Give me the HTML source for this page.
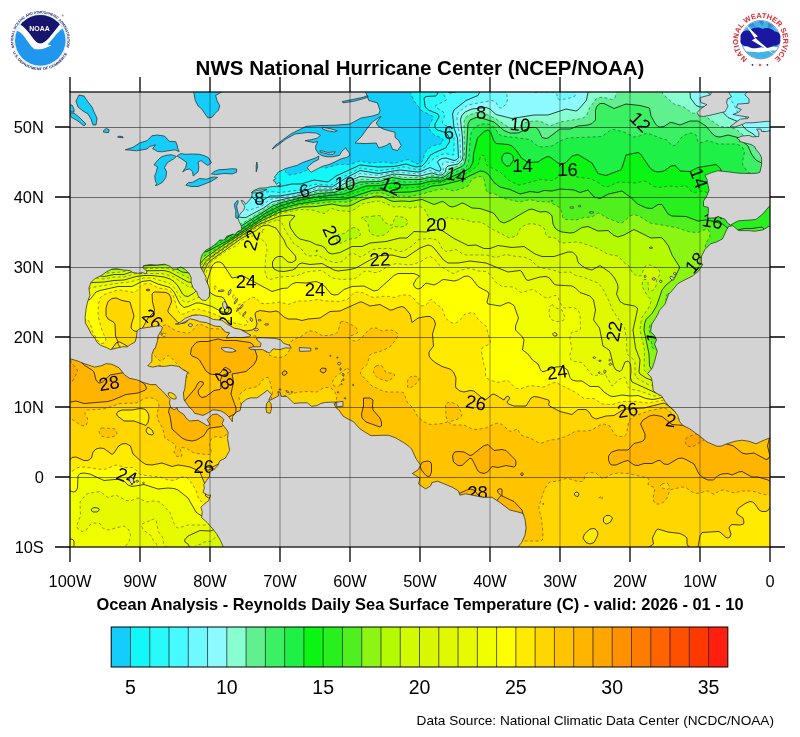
<!DOCTYPE html>
<html><head><meta charset="utf-8"><title>NWS National Hurricane Center SST Analysis</title>
<style>html,body{margin:0;padding:0;background:#fff;}svg{display:block;}</style></head>
<body><svg width="800" height="737" viewBox="0 0 800 737" font-family="'Liberation Sans', Arial, sans-serif">
<rect width="800" height="737" fill="#fff"/>
<g id="noaa">
<defs>
<path id="noaaTop" d="M14.35,47.84 A27,27 0 1 1 66.25,47.84"/>
<path id="noaaBot" d="M12.87,52.04 A29.8,29.8 0 0 0 67.73,52.04"/>
<clipPath id="noaaClip"><circle cx="40.3" cy="40.4" r="25.3"/></clipPath>
</defs>
<circle cx="40.3" cy="40.4" r="26.2" fill="#fff" stroke="#d6ecfa" stroke-width="0.8"/>
<g clip-path="url(#noaaClip)">
<rect x="14" y="14" width="53" height="53" fill="#2196ee"/>
<path d="M12,10 H70 V24.2 H60.1 C57,28 53,33 49,38 C46,41.5 43,43.5 40.1,43.5 C37,43.5 34.5,40.5 32,37 C28,31.5 24.5,27 20.2,24.5 H12 Z" fill="#17166c"/>
<path d="M12,24.5 H20.2 C24.5,27 28,31.5 32,37 C34.5,40.5 37,43.5 40.1,43.5 C43,43.5 46,41.5 49,38 C53,33 57,28 60.1,24.2 H68 V26 C66,26.6 64.5,27.4 63.5,28 C61,29.6 59.5,31 58,32.5 C55,35.5 54,37.5 52,39.5 C50.5,41.5 49,43 47.5,44.5 L51.5,45.3 C49,46.6 47,47.4 46,47.8 C44,48.6 42,49.2 40,49.3 C38,49.4 36,49.4 34.5,49.2 C33,48 32,47 31,46 C29.5,44 28.2,42 27,40.5 C25,37.5 23.5,35.5 22,34 C20,32 18.5,31.3 17,31 C15.5,30.7 13.5,30.5 12,30.5 Z" fill="#fff"/>
</g>
<text x="39.5" y="31.2" text-anchor="middle" font-size="7.6" font-weight="bold" fill="#fff" textLength="20.4" lengthAdjust="spacingAndGlyphs">NOAA</text>
<text font-size="3.6" fill="#1a1a5e" font-weight="bold"><textPath href="#noaaTop" textLength="99" lengthAdjust="spacingAndGlyphs">NATIONAL OCEANIC AND ATMOSPHERIC ADMINISTRATION</textPath></text>
<text font-size="3.6" fill="#1a1a5e" font-weight="bold"><textPath href="#noaaBot" textLength="68" lengthAdjust="spacingAndGlyphs">U.S. DEPARTMENT OF COMMERCE</textPath></text>
<circle cx="62.7" cy="15.5" r="1" fill="#9a9a9a"/>
</g>

<g id="nws">
<defs>
<path id="nwsTop" d="M747.42,58.88 A22.6,22.6 0 1 1 773.98,58.88"/>
<clipPath id="nwsClip"><circle cx="760.7" cy="39.7" r="18.7"/></clipPath>
</defs>
<circle cx="760.7" cy="39.7" r="19.2" fill="#fff" stroke="#1a1aa0" stroke-width="0.5"/>
<g clip-path="url(#nwsClip)">
<rect x="740" y="19" width="42" height="42" fill="#3fb4e6"/>
<path d="M746,26 L752,21.5 L755.5,27 Z M758,20 L764,20 L762.5,26.5 Z M767.5,21 L775,25.5 L768,28.5 Z" fill="#2a8fd0"/>
<path d="M740,50 C748,48 756,51 762,50 C768,49 774,49 782,51 L782,62 L740,62 Z" fill="#3fb4e6"/>
<path d="M740,47 C748,45.5 756,48.5 762,47.5 C768,46.5 774,46.5 782,48 L782,51 C774,50 768,51 762,52 C755,53 748,51 740,51 Z" fill="#fff"/>
</g>
<path d="M740.5,37 C740.5,32 745,29.5 749.5,31 C752,27 759,26.5 762.5,29 C766,27 772.5,28 774.5,31.5 C779,31.5 781.5,35 780,39 C781.5,43 778,46.5 773.5,45.5 C770.5,48.5 764.5,48.5 761,46.8 C757,49 750.5,48.8 747.5,46 C743.5,46.8 739.5,43.5 740.5,40 Z" fill="#1a18a0"/>
<path d="M745.2,24 L758,36.5 L754.8,37.6 L768.5,49.2 L775,55 L765.2,48.6 L751.6,40.2 L755,38.8 Z" fill="#fff"/>
<text font-size="7.3" fill="#e3262d" font-weight="900"><textPath href="#nwsTop" textLength="112.6" lengthAdjust="spacingAndGlyphs">NATIONAL WEATHER SERVICE</textPath></text>
<circle cx="752.5" cy="64.8" r="0.9" fill="#1a1aa0"/>
<circle cx="767.4" cy="64.8" r="0.9" fill="#1a1aa0"/>
<path d="M760,63.2 l0.45,1.2 1.3,0 -1,0.8 0.4,1.3 -1.15,-0.75 -1.15,0.75 0.4,-1.3 -1,-0.8 1.3,0 z" fill="#e3262d"/>
</g>

<text x="420" y="75" text-anchor="middle" font-size="20.5" font-weight="bold" fill="#000">NWS National Hurricane Center (NCEP/NOAA)</text>
<defs><clipPath id="mc"><rect x="70" y="92" width="700" height="455"/></clipPath></defs>
<g clip-path="url(#mc)">
<rect x="56" y="80" width="730" height="480" fill="#14cdfa"/><g transform="scale(0.5)" stroke="#000" stroke-width="1.7" stroke-opacity="0.85" fill-rule="evenodd"><path fill="#12f8f8" stroke-dasharray="6 5" stroke-opacity="0.6" stroke-width="1.3" d="M112 160l213 0 5 8 10 9 60 35 116 82 8 5 24 5 12 8 4 4 0 12 8 17 4 4 4 1 20-4 36-14 16 4 24-7 24 0 20-7 20 4 28-2 20 3 28-8 16 8 4 1 7-4 3-4 3-12 5-8 10-8 17-4 4-4 1-4 -2-4 -16-6 -8-9 -2-9 8-16 -1-4 -21-10 -16-20 -11-26 1-16 750 0 0 956 -1456 0z"/><path fill="#28fafa" d="M112 160l128 0 20 30 8 6 16-12 8-24 25 0 15 26 12 14 4 8 -8 6 -11 18 -10 8 5 8 27 20 9 3 4-2 1-9 3-7 13-9 6-8 -1-4 -6-7 -8-4 -15-5 -4-4 4-4 11-5 12 5 48 36 5 8 -5 20 4 4 12 8 5 8 -1 4 -4 5 -4 2 -8 0 -26-27 -10-5 -8 1 -8 4 -4 4 7 8 38 28 19 10 20 18 8 4 4-1 9-11 9-16 7-8 7-5 12 3 10 6 8 8 1 4 -1 12 4 24 2 4 20 5 24-5 18 0 26-8 28 4 16-12 48-22 36 4 32-1 24-5 20 6 12-2 8-8 8-13 8-5 23-10 8-12 0-8 -5-8 -6-4 -13-4 -5-4 0-8 7-12 1-4 -2-4 -19-8 -5-4 -2-4 -2-16 4-3 20-1 3-4 1-8 -1-8 2-12 691 0 0 956 -1456 0zM296 192l0 1 1-1z"/><path fill="#46faff" stroke-dasharray="6 5" stroke-opacity="0.6" stroke-width="1.3" d="M112 160l124 0 4 9 32 46 24 21 104 76 40 25 24 20 8 2 20-7 12 0 11 12 6 16 3 4 4 1 12-2 20 2 40-5 24-10 12-2 24 3 7-3 21-15 32-17 36 6 52-8 24 5 8 0 8-4 21-19 11-6 12-3 12 3 4-1 0-35 -12-21 -11-5 0-4 4-12 -2-8 -13-8 -4-4 23-12 -6-12 0-28 681 0 0 956 -1456 0z"/><path fill="#6efaff" d="M112 160l122 0 6 13 28 41 20 23 74 55 14 15 58 33 30 24 8 3 16-3 4 1 5 7 4 16 5 8 6 6 8 2 20-12 20 0 43-8 33-12 28 2 28-18 28-15 36 6 44-7 36 4 8-2 16-7 16 7 4 0 2-2 -1-4 -6-12 3-4 6-3 8-1 16 5 4-1 5-4 -2-40 -7-20 -2-20 -1-8 3-8 24-19 24-10 15-31 16 0 1 3 4-1 0-2 109 0 2 4 5 2 4-1 3-5 385 0 0 8 2 4 10 5 4-1 10-16 42 0 0 956 -1456 0zM893 160l3 0 38 0 -3 8 -6 8 -14 8 -11 2 -4-2z"/><path fill="#8cfaff" stroke-dasharray="6 5" stroke-opacity="0.6" stroke-width="1.3" d="M112 160l120 0 4 9 20 31 36 54 9 10 7 20 25 40 31 28 56 40 8 2 6-2 10-8 4-9 4-1 3 2 2 8 -13 20 0 9 12 1 24-4 16 11 28-9 12-10 8-4 60-11 32-11 28 1 28-16 28-14 36 4 36-7 48 4 20-7 16 6 8-1 3-6 -2-12 3-4 24 1 8-5 1-4 -1-40 -6-36 0-8 3-8 19-14 48-9 8 3 4 9 4 3 4 0 8-8 3-8 -3-24 1-16 50 0 3 20 3 4 3 1 12-1 24 1 6 3 0 8 6 4 24-5 6-3 1-4 -3-8 -14-20 305 0 1 12 4 8 8 13 13 11 10 20 13 10 12 4 4-1 8-10 8-3 12 1 24-19 12-5 0 54 -12 2 -12 10 -8 1 -12-7 0 3 4 16 8 4 15 0 17-4 0 836 -1456 0zM1520 256lzM1461 160l3 0 14 0 -3 4 -7 2 -5-2z"/><path fill="#88ffd0" d="M112 160l119 0 5 12 42 64 26 50 21 34 28 28 39 33 16 19 12 8 3 4 4 12 3 4 10 4 16-2 28 5 8 0 35-19 17-12 64-15 28-9 28 0 10-4 22-13 24-10 36 3 32-8 52 4 24-6 12 4 8 0 7-6 1-8 4-4 20-4 8-8 2-8 -1-36 -4-36 2-8 7-8 14-6 28-3 8 3 12 11 32 8 44-7 28 0 36-12 20 4 4-2 14-16 3-4 3-15 9-5 2-8 -2-12 157 0 2 8 4 4 4 0 12-4 12 7 4 9 1 12 11 15 8 3 20-1 24 10 12 12 24 10 13 15 15 9 16 18 20 5 24-2 0 826 -1456 0zM1417 160l13 0 1 12 8 20 -3 4 -12-3 -9-9 -1-4z"/><path fill="#60f090" stroke-dasharray="6 5" stroke-opacity="0.6" stroke-width="1.3" d="M112 160l117 0 7 14 37 58 15 30 32 55 28 30 41 37 16 20 2 12 -9 12 -1 4 3 4 8 4 20 2 12 9 8 2 28-4 12-4 52-34 20-8 52-12 24-8 32-1 32-16 20-8 36 2 32-9 20 4 28 0 12 0 16-5 12 3 8 0 8-5 8-10 20-8 6-6 3-12 -1-68 2-8 6-5 16-6 16 1 24 12 28 18 8 1 8-2 12-9 16-4 16 0 20 10 20-8 44-7 9-5 6-16 13-18 12-4 20 5 6-3 6-24 -1-12 30 0 3 4 8 3 7-3 2-4 39 0 1 28 23 20 20 6 16 12 20 2 36 25 20 2 12 3 20 17 12 6 16 13 28 4 20-2 0 820 -1456 0z"/><path fill="#3cf064" d="M112 160l116 0 8 16 33 52 31 60 20 32 28 30 40 38 12 16 1 8 -23 24 -4 8 2 4 24 3 16 6 24 5 12 0 24-6 68-43 20-8 72-18 32-2 52-21 40-1 24-8 24 4 32 0 24-5 16 2 8-2 16-12 20-9 5-5 3-12 4-68 4-8 12-5 8 0 28 9 20 17 12 5 16 0 24-11 12 0 5 5 7 15 8 2 4-1 24-18 20 0 16-6 20-2 8-3 7-7 0-20 3-8 6-5 8 0 20 10 24-9 28 3 19 5 3 16 9 16 5 5 4 1 8-1 12-8 4 0 16 5 20-8 16 0 16 10 13 16 7 5 8 1 16-4 20 5 20 17 8 18 8 10 20 11 3-3 -5-16 2-5 16 1 8 4 8 12 4 4 0 788 -1456 0z"/><path fill="#1ef046" stroke-dasharray="6 5" stroke-opacity="0.6" stroke-width="1.3" d="M112 160l114 0 8 16 31 48 20 40 31 54 28 32 24 22 29 32 0 4 -5 8 -49 40 -7 8 -1 4 9 3 20-6 28-2 4 4 4 9 8 4 20-6 20-2 12-4 23-12 41-28 20-11 20-9 28-8 48-10 24-2 16-3 48-18 32 0 24-7 28 4 32-1 20-5 16 1 8-2 20-12 20-8 6-5 3-8 4-52 3-11 8-8 12-5 12 0 8 3 6 5 7 12 7 4 56 7 15 13 9 2 20-2 16-10 16-6 68-3 16-12 8-2 20 5 20 10 8-1 16-6 8 1 20 8 14 4 10 12 8-2 10-14 4-4 10-5 8-1 8 4 4 14 4 2 16-5 20 7 36 0 8 3 6 5 3 8 -4 20 1 8 10 12 8 4 12-1 4 2 8 16 4 4 20 3 16-3 0 747 -1456 0z"/><path fill="#0af514" d="M112 160l113 0 5 12 34 52 19 40 33 56 26 32 22 20 28 32 0 4 -2 4 -10 10 -49 38 -12 12 -1 4 2 2 16 4 8 0 16-6 8 0 8 3 8 7 20 3 44-11 28-15 56-37 28-14 36-11 44-8 48-5 44-16 28-1 24-5 24 4 32-2 24-6 20 0 48-21 8-5 6-12 1-16 8-32 13-13 8-3 5 4 6 16 5 7 24 2 8 3 8 8 11 16 13 9 20-1 12-8 8-3 4 1 16 12 8 2 8-3 12-13 12-3 28 17 12 21 16 4 29-11 3-4 8-26 24-5 5 3 19 28 8 6 8 2 12-2 14-10 6-1 4 1 8 10 20 1 16-8 36-6 8 7 5 12 -1 5 -9 11 1 6 4 1 16-2 11 3 7 16 10 8 4 1 8-3 20-20 40 2 12-2 0 742 -1456 0zM1008 307l-5 9 2 8 7 8 7 0 8-12 -1-8 -4-4 -6-2z"/><path fill="#28f01e" stroke-dasharray="6 5" stroke-opacity="0.6" stroke-width="1.3" d="M112 160l111 0 8 16 29 44 51 96 29 40 22 20 18 30 1 6 -5 8 -28 24 -34 24 -15 16 -5 8 1 4 5 1 28-4 20-1 16 6 16 1 40-5 40-18 76-49 28-13 32-10 48-7 44-4 52-17 76 0 24-2 24-7 20-2 40-14 20-10 13-13 3-12 4-6 5 2 3 16 4 4 24 12 17 16 19 10 8-1 36-10 24 2 16-9 16-2 24 5 20 2 15 7 9 7 8 3 8-2 17-8 35 2 16-4 4 1 16 10 8 2 24-3 16 2 16-3 12 13 4 1 16-3 8 2 9 8 11 13 20 7 11 12 5 1 56 2 5-3 2-8 -1-8 -6-16 3-8 9-4 20 3 12-1 0 734 -1456 0z"/><path fill="#50f01e" d="M112 160l109 0 8 16 31 48 35 68 16 28 16 24 9 22 4 4 12 6 4 7 0 9 -4 12 7 16 -5 12 -6 8 -40 27 -43 41 -3 4 6 3 16-4 36-3 44 1 28-1 24-6 42-22 74-48 32-15 32-9 52-8 44-2 52-17 20-1 20 5 36-1 20-3 24-9 20-2 36-9 40-19 8 1 8 5 12 17 12 9 20 5 20 9 20-5 16 2 12-4 16 1 16-4 28 2 12 5 16-5 12 14 12 3 17-9 27-6 19 14 12 12 18 8 11 1 12-8 8 0 12 19 8 4 28 1 24 9 16-2 16 3 17 5 15 12 8 2 20-5 16 0 20-3 6 6 7 20 -2 48 6 24 3 23 13 13 11 19 0 509 -1456 0z"/><path fill="#8cf514" stroke-dasharray="6 5" stroke-opacity="0.6" stroke-width="1.3" d="M112 160l105 0 39 61 49 95 17 28 4 16 12 28 10 44 -6 8 -37 20 -15 20 -41 32 -4 8 3 4 20 1 24-4 56-1 44 2 68-41 68-45 36-16 36-10 60-6 36 0 44-16 12-2 12 0 20 8 20-2 16 1 20-4 36-10 16-1 16 4 24-8 4-2 7-12 6-4 11-3 4 1 4 4 4 22 4 6 12 1 16 9 36 8 20-5 16 4 24 1 21 12 5 20 6 3 20 1 16-5 16-1 12-8 4 1 12 8 28 11 4 0 16-14 8-3 10 3 22 14 52 9 28 9 16 1 16-7 4 1 3 5 1 8 -9 16 -1 24 2 8 4 2 8-2 8-8 2-8 -1-16 3-6 5 2 9 12 10 3 24-15 20 1 16-5 4 5 3 11 2 16 -1 16 6 24 4 28 6 13 16 22 4 4 4 1 0 43 -4-1 -6-6 1-24 -2-4 -5-2 -4 1 -4 6 -1 7 4 20 -3 19 1 5 8 0 15-7 0 439 -1456 0 0-689 12-3 5-8 3-12 -4-8 -4-3 -12-3zM168 339l-5 5 -1 8 6 6 8 0 6-6 2-9 -4-5 -4-2zM1300 650l-2 10 4 12 1 20 5 7 4 1 4-4 1-4 -7-20 2-16 -4-6 -4-2zM1336 587l-4 5 0 9 4-1 4-8 0-4z"/><path fill="#b4fa00" d="M218 176l6 3 4 7 17 30 7 8 32 56 12 28 0 24 12 16 12 24 3 12 -3 3 -16 4 -16 12 -10 5 -3 4 12 32 1 24 -3 8 -13 12 -24 13 -28 22 -4 2 -7-1 0-4 13-16 5-8 0-24 -4-4 -7-1 -4 1 -14 12 -15 4 -3 4 -4 13 -12 4 -3 3 1 4 6 10 8 5 12 4 12 7 40 0 24-5 72-4 8 3 20 12 16 2 12-9 18-21 30-21 84-54 36-17 44-10 28-1 32-5 20 4 12 0 8-2 19-10 29-8 12 1 16 8 8 2 16-1 16 1 24-4 24 10 16-6 4 1 10 8 6 2 8-2 12-6 4 1 16 9 16 1 24 8 4 2 12 16 8 3 12-5 36-21 8-2 16 6 12-1 8 4 4 5 2 16 4 8 6 5 8 3 16 2 8-1 16-10 12-2 20 9 20-1 12 10 8 3 12-4 20-11 34 17 18-1 4 1 4 4 9 12 7 18 14 22 1 4 -10 20 -17 14 -8 10 -11 32 -9 15 -12 12 -3 9 -1 12 10 48 1 24 5 8 4 1 4-2 8-15 26-28 -1-8 -4-12 2-4 5-6 16-10 3-8 0-16 3-16 28-40 10-18 24-16 8-3 16 1 16-6 48 5 4 3 5 10 9 56 -1 28 2 52 1 3 4 1 24-6 0 430 -1456 0 0-631 18-1 18-8 16 6 8-1 4-4 1-5 1-12 -2-12 5-4 7-2 20 0 8-5 0-10 -16-16 -9-19 1-4 8-3 8 0 5 3 11 14 13 2 -3-28 -9-24 0-16 -1-8 -8-9 -16-1 -6-2 -4-4 -4-8 -1-8 5-20 -13-16 -2-8 4-12 13-6 4-6 0-26 4 1 4 3 24 26 12 3 3-3 0-8 -2-8 -9-6 -6-14 -13-12 0-4zM216 283l-3 1 -1 4 4 6 8 3 2-5 -2-4zM228 249l-4 3 -1 4 5 4 6-4 2-4 -4-4zM146 188l10-2 8 2 4 4 -2 4 -10 10 -8 2 -5-8 0-8zM112 312l0-2 4 2 8 8 8 12 2 8 -2 4 -4 3 -16 4z"/><path fill="#d2fa00" stroke-dasharray="6 5" stroke-opacity="0.6" stroke-width="1.3" d="M263 264l5 2 4 5 8 16 0 8 -3 5 1 16 -2 6 -4 5 -16 9 -4 0 -6-8 -1-8 5-12 14-12 -1-12 -7-12 1-4zM743 404l17-2 28 12 16-1 16 3 20-3 8 4 10 19 6 4 12 1 20-6 12 3 16 0 20 6 16 0 9 4 11 8 39 20 14-4 8-16 11-7 12-2 12 3 7 2 5 4 4 13 4 5 14 2 10 9 8 1 24-2 12 2 32 11 20 12 20 3 12 13 10 7 6 12 8 7 9 1 3-3 4-13 4-5 8-1 14 6 4 4 2 8 -7 12 -1 12 -4 7 -4 3 -7-2 -1-16 -4-5 -4 0 -3 5 -1 8 2 4 9 16 5 5 2 7 -5 12 -14 20 -3 24 9 40 -1 40 8 8 32 10 8-2 16-20 16-5 6-7 0-8 -6-20 -1-16 25-44 -1-20 4-12 5-7 12-6 22-3 7-4 10-12 9-5 8-1 20 3 20-9 12 1 5 7 8 40 3 84 4 3 28-6 0 427 -1456 0 0-625 12 4 12 6 12 9 17 18 27 16 8 3 44-3 24-6 60-2 12 2 40 19 4-1 4-5 19-27 9-9 75-51 48-28 25-10 36-7 24 1 24 7 4-1 5-6 7-3 12 4 24 2 12-6 11-9zM748 432l-12 2 -8-1 -5 3 9 6 4 5 3 17 4 4 9 4 8 0 8-2 8-6 8-9 4-2 12 1 8-1 6-5 2-4 -2-4 -6-5 -16-3 -3 4 -3 12 -2 2 -4 0 -12-6 -6-12 -6-1zM708 455l-8 3 -12 9 -12 2 -3 7 2 8 5 2 4 0 12-7 16-3 7-4 2-4 -3-8 -6-4z"/><path fill="#d7f800" d="M560 432l20-2 10 2 -10 11 -1 5 2 8 11 16 8 6 20 5 12 6 12 3 6 4 6 9 8 3 16-3 24-12 20 0 16-7 32-3 28-7 14 0 14-13 24 1 20-6 12 3 24 16 28 14 16-1 16 7 12 0 16-6 28 4 24-2 22 15 14 5 24 0 28-9 9 0 8 8 3 12 3 4 13 9 12 3 16-9 20 14 9 11 6 12 1 8 -3 12 7 15 8 5 21 4 6 4 -1 8 -8 36 5 36 9 24 -2 24 2 4 12 8 40 16 28 1 8-4 3-5 6-16 10-16 1-34 12-10 0-4 -5-16 1-8 8-16 16-16 -2-12 1-4 13-5 12 0 8 3 12 9 12 2 19-9 9-17 4-2 4 0 8 4 4 5 2 6 5 52 1 28 2 8 6 2 28-8 0 426 -911 0 -1-7 -4-2 -1 1 1 8 -102 0 1-12 -8-4 -11-1 -36 2 -8 3 -2 4 -1 8 -373 0 0-619 8 2 16 9 11 8 17 17 32 18 12 2 20-4 20 0 20-7 60-1 12 3 36 20 8 1 4-2 23-39 8-8 69-48 32-20zM576 1099l-10 5 2 4 8 6 8-2 12-8 -2-4 -2-1z"/><path fill="#e0f800" stroke-dasharray="6 5" stroke-opacity="0.6" stroke-width="1.3" d="M555 440l5 1 3 3 7 16 18 28 13 8 11 14 8 2 16-1 20 10 12 4 8 0 8-2 16-15 8-1 12 7 4-1 20-13 12-3 24 0 20 6 8-1 16-10 12-12 4-2 24-1 12 4 8 16 8 6 20-4 12 8 8 3 40 0 20 5 20-6 20 4 16 1 14 6 12 12 8 4 22 3 16 6 20-1 12 7 16 4 28 11 9 10 14 28 6 16 24 36 4 20 1 32 14 12 2 4 0 24 2 7 24 14 12 3 8 4 16 2 28 11 8-2 13-11 30-44 3-12 8-20 11-20 0-4 -13-12 -2-4 1-4 21-11 12-14 33 5 3 4 -1 24 5 3 5-3 5-16 2-3 8-3 8 3 5 11 4 36 3 6 8 2 28-8 0 424 -903 0 -5-16 -4-5 -4 0 -32 3 -32-9 -28 2 -32-4 -20 2 -24-1 -7-4 -3-4 -6-20 -4-5 -4-2 -8 2 -12 8 -16 19 -16 2 -5 4 -11 3 -4 8 -3 17 -273 0 0-600 12-5 13 5 7 8 1 4 -4 8 1 8 3 4 11 4 8 1 8-3 20 6 16 2 20-4 20 0 24-7 52 0 20 5 32 21 8 1 8-4 15-34 7-12 6-6 65-46 39-23z"/><path fill="#e8fa00" d="M524 452l12-2 16 6 16 24 5 12 18 20 1 8 -8 5 -8-1 -12-11 -8 0 -6 3 -5 8 0 8 3 6 8 4 12 1 17-3 7-4 6-8 6-2 16 3 24-2 24 13 8 2 24-3 12-3 28-16 20-9 24-1 20 5 8 0 28-19 16-6 7 2 5 4 19 24 9 6 20 0 24-4 32 4 44 18 24-3 4 3 8 15 4 2 24-7 12-1 7 3 9 12 4 2 32 2 7 4 9 9 20 7 7 8 4 20 -4 20 12 16 7 36 12 8 2 3 7 29 5 8 8 3 4-4 6-15 6-2 5 6 1 12 -1 16 3 8 48 22 12-3 8 1 20 13 12 5 12-1 16-15 13-14 10-16 18-16 15-24 24-21 20 2 20-17 4 0 4 3 8 17 4 2 36-9 0 423 -900 0 -6-20 -2-5 -4-2 -44 0 -9-5 -8-8 -7-3 -18 7 -10 0 -12-2 -16-10 -20 3 -8-2 -4-5 -4-12 -3-24 -2-4 -7-3 -9 3 -10 12 -41 25 -4 1 -20-1 -24 11 -7 8 1 4 6 4 4 8 -2 20 -266 0 0-570 12 3 32 14 12 3 40-2 20-3 20-1 24-7 16-2 16 0 24 3 12 4 8 5 8 9 9 16 5 4 6 1 12-7 8-8 13-38 6-12 5-6 64-46 28-15zM188 1015l-4 2 -2 3 4 4 8 0 5-4 -3-4z"/><path fill="#f0ff00" stroke-dasharray="6 5" stroke-opacity="0.6" stroke-width="1.3" d="M524 460l4-1 1 1 -1 3 -4 2zM503 472l5 0 16 7 8 9 2 12 -3 16 -1 28 4 12 6 3 20-5 32-2 20-8 28-3 8 3 16 12 20 3 20-1 8-2 16-13 8-1 12 3 8 0 21-13 15-5 24 3 8-1 16-5 16-10 4-1 8 4 12 15 24 14 4 1 12-6 16-4 8 1 12 4 16 1 7 5 12 16 13 9 24 1 12 10 4 1 20-6 4 1 20 14 8 3 8-5 8-1 4 4 8 18 4 3 20-1 8 5 4 8 1 28 -1 4 -4 2 -12 2 -4 8 0 8 4 16 -5 16 3 8 6 3 16 2 20 25 8 1 12-3 8 3 12 21 4-2 8-10 12-6 4 3 3 15 5 6 20 4 28 10 8 0 12-4 4 2 20 15 20 7 16 1 6-1 6-4 9-20 28-28 11-20 8-7 8 0 8 12 8 5 28-22 19-20 21-8 20-5 0 421 -898 0 -4-16 0-12 -2-4 -11-8 -10-16 -8-4 -23-6 -20 5 -16 1 -8-4 -3-4 2-8 0-4 -3-3 -8-2 -8 0 -12-6 -3-5 0-8 9-16 -8-20 -6-5 -11 5 -9 7 -8 17 -4 5 -28 10 -24 11 -24 21 -8 3 -36 0 -20 6 -4-2 -4-7 -8-22 -20-21 -12-2 -16 2 -12-7 -4-1 -16 6 -8-1 -20-11 -16 5 -16-12 -24 4 -4 2 -12 15 1 28 -8 20 3 6 8 5 8-2 8-12 8-3 12 1 5 9 11 4 32-8 8 6 4 6 1 8 -3 12 -18 21 -4 11 -124 0 0-562 12 2 14 8 4 4 1 4 -3 8 1 4 7 4 12 2 10-2 10-12 4-1 48-8 28-3 28-8 16 0 36 11 8 8 16 25 4 3 8 1 20-9 12 0 2-3 -5-8 1-12 9-36 7-12 33-24 17-8 12-12zM552 995l-2 5 2 4 4 3 4-1 2-6 -1-4 -5-2zM1104 609l-4 4 -2 11 2 12 4 4 8 3 8 0 8-3 1-8 -5-12 -12-4zM412 596l-1 0 1 0zM303 1040l5-2 4 2 5 24 9 12 1 12 13 14 16 4 2 2 -1 8 -24 0 -4-8 -12-8 -4-12 -7-8 -3-8 -16-12 -4-8 1-4z"/><path fill="#ffff00" d="M434 524l6 0 6 4 18 28 16-3 8 0 56 30 20-6 11-1 9-8 8-3 20 1 20-3 8 3 9 6 13 16 6 2 8-1 12-10 16-6 24-1 20 10 8-2 32-29 8-4 32 0 11 5 -7 7 -5 9 1 4 3 4 5 2 6-2 10-10 16 4 8-4 8-6 4-1 20 3 8-2 12-7 8-1 7 4 13 17 20 11 2 4 -4 16 2 4 24 4 16-7 4 1 8 5 9 25 -6 16 0 8 13 13 4 7 -3 20 11 8 9 12 11 8 5 12 3 3 4 0 24-9 12-1 11 7 5 15 4 5 8 2 12 0 16 11 16 0 4 2 8 9 12 8 8 1 16-3 16 2 16-1 16 6 12 2 8-1 16-4 5 2 23 17 36 12 8 0 12-3 12-12 16-8 3-6 -2-12 13-16 6-4 8 2 12 11 8 3 20-7 16 12 4-2 5-31 -4-24 1-16 4-4 7-4 27-8 0 420 -896 0 -4-16 3-8 5-3 24-4 1-1 -1-4 -20-26 -12-8 -20-9 -12-16 -4-2 -16 1 -9-4 -4-8 -7-40 -4-4 -12 2 -16 0 -12-3 -16-9 -12 2 -32 19 -6 9 -3 12 -4 4 -47 15 -9 5 -7 8 -8 4 -8-2 -8-6 -16-28 -20-16 -8-3 -12-1 -20 2 -28-9 -24 4 -8-3 -8-8 -8-4 -32 3 -28-13 -12-2 -8 1 -4 5 -1 24 -3 6 -4 2 -15-4 -5-12 -16 1 0-380 10 3 14 12 12 1 32-6 12-15 8-3 36-8 28 0 20-10 16-2 16 7 24 7 8 9 12 24 8 7 8-2 16-7 8 0 24 7 20 11 12 1 2-5 -1-4 -9-19 -4-3 -12-2 -8-4 -5-4 -5-8 1-16 9-28 4-5zM1105 668l3-3 4 1 2 2 -1 4 -5 0zM112 988l2 0 3 4 -5 9zM112 1012l0-4 11 16 -3 5 -8 2zM136 1080l8-2 4 4 0 9 -7 13 11 12 -40 0 0-27 6 3 4 8 10 2 3-2 -5-8 0-4z"/><path fill="#ffea00" stroke-dasharray="6 5" stroke-opacity="0.6" stroke-width="1.3" d="M288 568l12-1 16 9 16 2 8 3 7 11 8 28 6 8 7 0 16-8 12-2 28 8 44 20 20 4 4 0 4-2 -1-4 -7-10 -12-10 -2-8 2-6 12-5 16-11 8 2 7 8 5 3 12 0 24-3 16 5 20-7 20 0 20-3 16 3 28 1 16-5 12-13 8-1 12 2 12 7 8 2 24-3 16 3 16-5 12 0 8 3 12 14 8 5 8-2 8-10 4-1 8 9 12 8 7 20 9 8 8 3 4-1 8-6 10-12 14-3 4 1 9 14 15 12 9 32 -2 4 -15 8 -1 8 5 25 3 7 0 16 2 4 7 4 16 5 16-4 4 0 15 15 9 2 20-7 28 3 16-8 8-1 38 19 18 13 20 0 16 11 20 1 20-6 28 0 24 3 32-6 4 1 24 20 64 21 8-1 8-13 4-3 16-6 2-3 5-16 5-6 4 0 12 6 20 0 20 13 4 1 6-26 3-36 -4-24 1-16 11-8 23-6 0 418 -893 0 -4-16 1-4 4-3 64-5 12-3 24 6 12 0 24-3 0-4 -26-4 -30-13 -8-7 -8-16 -4-4 -4 1 -12 13 -8 1 -8-8 -8-23 -3-4 -9-3 -24-1 -7-4 -12-20 -18-20 -5-8 0-8 2-7 4-3 8 3 4-1 -4-5 -12-1 -13-10 0-4 9-7 9-13 0-8 -9-8 -12-5 -12 3 -12 6 -15 20 -14 8 -12 12 -43 12 -4 4 -12 20 -20 18 -44 19 -8-2 -9-7 -4-8 -3-12 -13-20 -7-6 -8 0 -16 7 -12-1 -16-6 -36-4 -5-2 -11-12 -4-1 -16 0 -16-5 -20 8 -8 1 -36-5 -12 1 -36 23 -8 3 0-310 28 10 12 8 4-1 12-27 4-2 4 1 5 8 4 16 11 18 4 4 4 1 4-1 4-6 -1-4 -6-12 -9-32 1-24 3-12 8-7 24-8 8-1 28 5 4-2 9-11zM428 572l4 1 1 3 -1 3 -4-2zM465 592l3-3 3 3 0 4 -3 3 -3-3z"/><path fill="#ffd600" d="M292 580l4-2 4 2 -4 2zM304 588l4-4 8 0 16 1 6 3 4 8 1 8 -7 16 0 4 20 21 8 2 8-2 10-13 10-2 16 7 40 10 16 9 28 6 12-2 7-4 3-8 -4-20 2-4 8-3 20 3 12-2 5 2 11 10 8 4 16 0 12 3 12-3 24-2 20-13 20-1 40-18 4 0 16 8 20-3 20 11 4 0 12-5 8-2 6 3 10 12 4 17 12-9 16-3 8 0 8 6 3 9 -6 20 2 24 -9 12 0 8 6 8 8 6 12 7 16 5 7 6 5 12 -1 16 1 4 8 6 8 2 12-3 8 1 20 17 4 0 12-10 4-1 20 12 4-6 4-2 4 4 -6 8 3 4 11 4 24 0 10-16 6-3 8 1 21 6 2 4 -2 4 2 4 21 11 24 6 12-10 16 0 6 5 6 10 8 4 20-6 16-1 16-10 8-3 36-2 40-10 8 5 20 18 44 15 36 15 8-1 8-8 8 2 4 0 24-18 16-2 20 3 4-1 4-5 5-13 3-68 -4-16 -1-16 6-8 8-4 19-5 0 300 -20 3 -4 4 -7 14 -5 3 -8 0 -6-3 -8-12 -5-4 -5-1 -8 3 -15 10 -4 8 1 4 12 8 2 8 -1 4 -7 2 -16-1 -4 3 -2 4 4 12 -2 6 -4 2 -4-1 -12-11 -4-1 -32 2 -4 7 -4 22 -4 5 -8-2 -8-5 -2-4 0-12 -6-5 -8-4 -24-3 -20-6 -4 3 -7 15 2 12 -19 13 -16 0 -4 3 0 12 -591 0 -3-16 6-4 72-4 36 4 44-3 48-1 14-4 -2-5 -22-11 -13-24 -5-14 -4-2 -32 7 -4 2 -7 11 -5 4 -12 1 -8-4 -3-5 -1-16 -16-12 -24-11 -20-4 -12-18 -12 5 -8 0 -24-14 -4-6 1-4 3-4 8-2 4 9 4 1 20-6 3-2 -1-4 -2-2 -20 2 -4-2 -4-18 -15-20 1-8 7-16 -2-12 -7-10 -12-7 -28-4 -24 13 -16 5 -26 27 -22 15 -16 6 -16 1 -8 7 -12 16 -12 8 -13 15 -15 8 -8 8 -7 4 -6-4 0-20 -11-28 -4-3 -16-7 -16-3 -8-1 -12 3 -20-7 -20 4 -12-1 -8-5 -18-16 -5-16 -9-5 -8 1 -7 4 -9 14 -4 3 -16-12 -8-1 -8 2 -6 6 -3 12 -7 5 -8 0 -16-7 -8 1 -4 5 -4 12 -16 16 -8 5 0-59 7-2 -3-8 -4-2 0-225 20 8 24 14 12-4 4 3 6 14 6 8 12 10 8 1 18-11 10-14 4-2 -5-12 -1-24 -3-4 -11-6 -4-7 0-15 4-13 8-6 8-1 12 5 16 3 8 28 -5 16 -1 8 6 6 8 1 8-5 12-22 12-12 1-4 -4-16zM480 896l-21 8 -7 16 -28 15 -12-1 -3 2 2 4 6 0 7-3 16 4 8-1 8-9 12-7 8-9 4-1 12 10 8-2 4-5 0-5 -3-8 -9-5zM960 1087l-2 1 6 1 5-1zM1152 984l-4 4 3 4 5 1 2-5 -2-3zM1180 1058l-11 10 -3 8 6 9 8 3 8-3 5-9 3-8 -1-4 -3-5 -4-2zM1212 1031l-5 5 0 8 5 4 4-1 5-3 4-8 -5-5zM240 684l-4 0 0 4 6 8 6 4 11 0 2-4zM244 820l-8 3 -3 5 2 4 13 10 20 0 24 9 4-6 2-9 -1-8 -5-8 -4-2 -8-1 -16 3zM296 854l-4 6 1 4 3 4 8 2 3-2 -1-4 -2-4zM1540 1116lz"/><path fill="#ffc300" stroke-dasharray="6 5" stroke-opacity="0.6" stroke-width="1.3" d="M681 644l7-2 20 10 5 4 3 8 -4 4 -12 4 -3 4 11 6 8-1 7-5 14-16 7-4 8 0 12 6 12-2 7 0 9 4 4 4 -2 8 -14 18 -20 9 -18 5 -3 4 -4 16 -13 12 -1 8 23 24 24 11 8 1 27 0 5 2 6 18 12 12 10 18 8 7 12 7 8 1 20-2 11-3 -3-13 -1-23 5-3 8 0 8 3 4 3 8 17 -1 4 -7 6 -19 6 4 4 7 2 20 0 16 8 8 1 20-3 16-8 8-2 8 3 16 14 16-5 4 10 4 3 16 5 16 9 8 1 16-6 12-1 20-6 20-11 20 0 12-2 16-10 8-2 12 4 8 15 4 4 8 2 8 0 5-5 4-24 7-10 36-13 28-5 8 3 12 13 8 5 48 16 48 25 12 0 12-12 8-4 25 6 15 9 4 0 4-4 3-9 0-24 8-24 -2-20 3-48 -5-20 0-12 1-4 5-4 23-7 0 289 -16 1 -24-2 -24-7 -20 0 -16 4 -20-6 -8 1 -12 8 -12-7 -4 0 -12 4 -8 1 -8-3 -12-9 -8-1 -24 6 -6 16 -6 8 -8 4 -8 0 -4-4 -2-8 4-20 -14-7 2-9 -2-4 -40-9 -20-1 -12 2 -16 9 -5-1 -11-10 -16-1 -5 3 -3 12 -4 3 -8 0 -16-5 -8-1 -16 5 -16 2 -5 4 -8 16 -9 28 0 8 4 12 3 24 1 20 -1 4 -5 2 -40 0 -20 3 -52-8 -20 2 -23-7 -12-8 -15-4 -7-4 -2-4 -1-8 4-24 -8-10 -17-6 -15-11 -12-7 -24-4 -12-13 -16 4 -8-1 -1-8 6-20 -2-8 -11-4 -8-6 -28-38 -4-2 -12 0 -8-3 -20-19 -19-12 -2-8 3-16 -4-16 4-20 -6-11 -8-6 -12 0 -14 9 -26-1 -20 3 -21 6 -6 4 -5 9 -8 4 -4-3 -2-6 3-16 -5-20 -4-9 -4 0 -8 6 -8 12 -24 5 -12 10 -2 8 7 20 -1 20 -32 34 -8 5 -12-2 -8 3 -4 7 -1 5 4 16 -2 4 -5 1 -24-2 -8-3 -12-8 -8-1 -4 1 4 16 -4 2 -8-2 -4-8 4-12 -3-4 -19-12 -5-20 -9-16 -2-12 4-16 -1-8 -5-5 -8-3 -12 0 -20 10 -32 1 -32 11 -33 2 -5 4 0 4 5 8 0 8 -3 7 -4 1 -8-2 -12-9 -16-7 -4 0 -16 8 0-181 18 7 18 12 12 12 16 23 24 17 4 0 8-8 8-3 16 1 16-2 12 0 8 3 12 8 12 14 4-1 12-12 8-2 4 5 2 5 -1 28 3 5 4 3 8 1 12-3 20-18 6-8 -1-4 -13-6 -24-25 -4-2 -12 10 -4 1 -14-14 -2-8 8-21 4-3 16-4 0-4 -8-3 -17-1 -3-4 3-4 9-1 16-6 20 13 24 5 8-5 12-14 4 0 20 9 24 1 12 7 8 2 20 5 28 0 12 5 4 19 8 13 12 5 12 1 10-3 6-6 3-6 0-12 5-7 20-9 12-10 12 0 16 9 12 0 15-3 5-5zM692 738l-24 18 -3 8 3 8 4 1 4 0 4-4 8-19 10-6 2-4 -4-2zM1324 968l-4 4 5 4 11 3 3-3 -3-9 -4-1zM752 732l8-2 4 2 8 13 16 2 1 5 -5 5 -8 5 -8-1 -12-5 -5-4 -4-8 1-8zM828 752l8 2 2 2 0 4 -10 12 -8 4 -4 0 -2-8 2-9 4-5zM514 840l5 0 2 4 -1 4 -4 3 -4-3 -1-4zM203 856l25 1 4 3 2 8 -6 5 -12 2 -8-1 -5-2 -5-8 0-4zM1197 996l7-4 2 4 -6 1zM733 1096l23 0 28 5 28-3 68-1 28-4 56 4 20-4 40-1 16 4 16 0 16 8 24-1 12 8 19 5 -446 0 -3-12 3-4z"/><path fill="#ffb400" d="M112 668l0-3 16 6 18 13 6 12 6 24 10 10 16 10 4 4 4 16 4 5 4 1 5-2 15-14 28-5 24 11 17 12 4 8 -2 4 -15 6 -24 3 -26 11 -10 3 -48 4 -16-5 -40 8zM427 680l9-2 12 3 24 0 28 4 5 3 3 6 6 18 -1 8 -5 9 -16 14 -28 5 3 16 -5 24 10 28 0 8 -3 4 -13 7 -7 13 -5 5 -24 3 -4 2 -8 13 -15 9 -9 2 -12-2 -8-4 -20-18 -4-26 -3-8 2-8 9-8 20-5 23-27 5-10 4-3 6 1 1 4 -10 12 -1 4 3 8 5 3 8-2 16-12 12-2 2-3 -1-16 3-9 18-7 -2-4 -8-5 -4 1 -8 11 -3 1 -9 1 -8-1 -8-6 -13-22 -5-4 -10-4 -3-4 2-12 9-11 8-2 16 0zM1567 704l1 0 0 26 -20 0 -4-5 -1-5 3-8 6-4zM644 736l8 1 0 5 -4 4 -6-2 -2-4zM565 744l3-2 4 0 2 2 -1 4 -5 3 -4-3zM727 796l13 0 6 4 -1 12 1 8 14 16 3 8 0 8 -3 2 -28-10 -8-8 -1-8 4-16zM1299 832l9-2 16 3 20 16 24 2 32 8 20 9 24 17 23 7 17 14 8 2 16-2 24 13 4-1 4-6 -5-20 7-28 -1-24 2-8 5-4 4 1 16 7 0 51 -4 3 -2 6 1 8 5 5 0 65 -8 7 -8 2 -4-2 -4-5 -4-13 -4-3 -20-6 -12 0 -20-11 -7 1 -13 6 -8-3 -12 1 -8 3 -9 9 -11 0 -9-4 -9-8 -10-20 -16-9 -8-3 -8 1 -20 12 -8-1 -8-7 -4 0 -12 6 -16 0 -12 4 -8-1 -12-9 -8 2 -16 7 -8 0 -4-2 -3-8 0-8 6-8 13-4 20 0 12-13 16-4 4-3 2-4 0-8 -9-20 5-8zM1552 927l-4 7 -1 6 1 4 4 2 8-2 6-4 2-4 -2-4 -6-6 -4-1zM967 892l9-3 12 12 16-2 8 2 19 19 1 4 -1 8 -3 2 -16-3 -16 4 -12-2 -9 11 -7 3 -8-2 -4-3 -12-24 -4-2 -16 15 -8 0 -9-7 -2-12 4-8 7-1 12 1 12 7 4-1zM845 924l11-2 5 2 2 4 0 16 -3 8 -4 1 -4-2 -9-11 -3-8zM1041 948l3-3 3 3 -3 4zM934 980l6-2 8 2 8 10 12 6 8 10 8 2 8-4 8-11 3-1 -7-7 -1-5 5-3 4 2 0 13 24 11 16 17 6 28 0 16 -2 4 -20 7 -12 1 -24-8 -20-11 -20-1 -4-2 -1-2 1-4 9-8 0-8 -4-8 -5-5 -12-3 -8-5 -8-9 -5-10 1-4zM723 1100l33 1 7 3 1 4 -1 8 -63 0 0-8 4-4zM893 1100l19 0 20 3 16-1 16 4 20-7 40 0 28 7 4 10 -192 0 0-8 4-4zM807 1108l21-3 9 3 -3 8 -32 0z"/><path fill="#ffa600" stroke-dasharray="6 5" stroke-opacity="0.6" stroke-width="1.3" d="M113 680l7-3 4 1 6 2 3 4 -1 4 -5 4 11 12 4 20 13 16 -2 8 -9 16 -4 4 -4 0 -13-8 -11-3zM1391 868l5 0 9 4 4 4 -1 4 -24 14 -10-2 -4-8 2-7 4-3zM1554 868l9 0 -1 4 -14 16 -2-4 0-8 2-4z"/></g>
<g font-size="18.5" fill="#000" text-anchor="middle"><text x="481.2" y="118.5">8</text><text x="520" y="131.0" transform="rotate(5 520 124.3)">10</text><text x="640.5" y="128.5" transform="rotate(45 640.5 121.8)">12</text><text x="448.8" y="138.5">6</text><text x="456.3" y="181.0" transform="rotate(10 456.3 174.3)">14</text><text x="522.5" y="172.2">14</text><text x="567.5" y="176.0">16</text><text x="699" y="184.7" transform="rotate(70 699 178)">14</text><text x="712.6" y="227.6" transform="rotate(10 712.6 220.9)">16</text><text x="259.3" y="205.0">8</text><text x="304.3" y="197.1" transform="rotate(-10 304.3 190.4)">6</text><text x="344.9" y="190.3">10</text><text x="391" y="192.7" transform="rotate(25 391 186)">12</text><text x="251.4" y="246.7" transform="rotate(-75 251.4 240)">22</text><text x="332.5" y="242.2" transform="rotate(65 332.5 235.5)">20</text><text x="436.3" y="231.0">20</text><text x="379.8" y="265.7" transform="rotate(-3 379.8 259)">22</text><text x="246" y="287.7">24</text><text x="315" y="295.7">24</text><text x="695" y="269.2" transform="rotate(-50 695 262.5)">18</text><text x="613.8" y="338.0" transform="rotate(-80 613.8 331.3)">22</text><text x="652.5" y="344.2" transform="rotate(-80 652.5 337.5)">1</text><text x="557" y="378.7" transform="rotate(-8 557 372)">24</text><text x="476" y="409.2" transform="rotate(10 476 402.5)">26</text><text x="627.5" y="416.7" transform="rotate(-10 627.5 410)">26</text><text x="671" y="426.7" transform="rotate(10 671 420)">2</text><text x="153" y="325.7" transform="rotate(42 153 319)">26</text><text x="225" y="322.7" transform="rotate(-90 225 316)">26</text><text x="225" y="385.5" transform="rotate(60 225 378.8)">28</text><text x="109" y="389.7" transform="rotate(-10 109 383)">28</text><text x="203.8" y="473.0">26</text><text x="127" y="482.7" transform="rotate(20 127 476)">24</text><text x="477.5" y="499.2">28</text></g>
<g fill="#d3d3d3" stroke="#222" stroke-width="0.7" stroke-linejoin="round"><path d="M0.0,358.0L70.0,358.7L77.0,360.8L84.0,363.6L94.5,367.1L101.5,365.7L106.4,363.6L112.0,364.3L119.0,367.8L124.6,374.8L129.5,378.3L136.5,379.7L143.5,382.5L150.5,384.6L156.1,384.6L157.5,386.7L162.4,390.9L168.0,397.2L170.1,399.3L169.4,402.8L170.8,407.7L174.3,409.8L177.1,407.7L177.8,410.5L184.1,414.7L186.2,418.2L189.7,421.0L198.1,420.3L203.0,423.1L207.2,425.9L210.0,424.5L207.2,419.6L212.1,414.7L217.0,414.0L221.9,417.5L224.0,419.6L221.9,423.8L225.4,428.0L228.2,432.2L227.5,438.5L228.9,446.2L229.6,450.4L225.4,458.1L219.8,460.9L217.7,465.8L213.5,470.0L210.0,471.4L209.3,477.0L206.5,480.5L203.7,484.7L204.4,488.2L203.0,492.4L207.9,495.2L210.7,495.2L208.6,500.8L206.5,502.2L200.9,507.1L202.3,512.0L201.6,517.6L207.2,522.5L212.1,528.1L217.0,534.4L220.5,540.7L223.3,547.0L225.4,554.0L227.5,561.0L507.5,561.0L511.7,552.6L516.6,548.4L521.5,542.8L525.0,535.1L526.1,528.1L525.0,519.0L522.9,513.4L518.0,512.0L509.6,509.9L500.5,502.9L492.1,497.3L483.0,497.3L476.0,495.9L465.5,493.8L459.9,495.2L458.5,491.0L452.9,487.5L444.5,484.0L437.5,481.2L431.9,482.6L430.5,486.1L425.6,488.9L418.6,484.0L420.0,478.4L415.8,475.6L412.3,473.5L417.9,470.0L420.7,465.1L416.5,459.5L411.6,449.0L408.8,446.2L403.9,442.7L395.5,437.8L388.5,435.3L381.5,435.3L371.0,435.7L364.0,431.5L359.8,428.7L353.5,421.7L346.5,418.2L343.0,416.1L338.8,409.8L336.0,407.7L333.9,403.5L336.7,402.1L332.5,402.1L325.5,402.4L320.6,403.5L317.1,405.6L311.5,406.3L307.3,402.8L301.0,402.8L294.0,403.5L291.2,400.7L287.0,396.5L281.4,396.5L280.0,392.3L277.9,391.6L278.6,395.8L270.9,400.0L268.8,400.0L271.6,394.4L267.4,390.2L263.9,393.0L256.9,397.9L250.6,397.9L246.4,399.3L241.5,403.5L240.1,410.5L236.6,411.9L232.4,416.8L232.4,421.7L228.2,416.1L224.0,412.6L220.5,410.8L216.3,410.2L212.8,409.8L208.6,412.6L203.0,415.4L198.8,414.3L194.6,413.3L193.2,410.8L189.0,407.0L186.2,402.8L184.1,400.0L183.4,393.0L184.8,388.8L185.5,382.5L186.2,376.9L187.6,372.0L183.4,369.9L178.5,366.4L171.5,365.3L164.5,366.4L157.5,366.1L152.6,367.1L149.8,366.4L147.7,365.7L151.9,361.5L151.9,354.5L154.0,348.9L155.4,348.2L157.5,340.5L158.2,335.6L161.7,330.0L162.4,327.2L160.3,325.8L154.0,326.5L147.0,327.5L140.0,328.6L137.2,330.7L136.5,337.0L135.1,341.9L130.2,344.7L127.4,346.8L122.5,346.8L116.2,348.2L110.6,349.6L106.4,347.5L100.8,345.4L97.3,342.6L94.5,337.7L91.0,333.5L88.2,327.9L85.4,323.0L85.1,317.4L86.1,309.0L87.5,302.0L89.9,295.4L88.9,288.0L91.0,282.4L94.5,278.9L101.5,275.4L106.4,271.9L112.0,269.1L116.9,268.8L123.9,270.1L129.5,270.5L133.0,272.6L137.9,273.3L142.8,272.6L145.6,274.0L147.0,271.2L142.8,267.7L143.5,265.6L150.5,264.5L154.0,264.9L157.5,264.9L164.5,264.2L170.1,266.3L172.9,269.1L176.4,269.1L180.6,267.0L184.8,269.1L189.0,273.3L191.1,277.5L191.1,282.4L193.2,288.0L196.7,291.5L198.1,295.7L201.6,299.9L205.8,300.6L207.9,298.5L209.3,296.4L209.7,290.1L208.6,285.9L205.8,279.6L206.2,277.5L203.7,272.6L200.9,267.7L200.2,263.5L200.9,258.6L202.3,254.4L205.8,250.2L210.0,248.1L214.9,244.6L219.8,240.0L224.3,240.0L226.8,236.2L233.1,234.1L234.5,234.8L238.0,231.3L241.5,230.2L241.5,226.4L239.4,222.2L238.0,218.7L238.3,217.0L240.8,213.1L243.6,210.3L244.7,207.5L244.3,205.4L242.2,202.6L241.2,200.2L243.6,201.2L245.7,204.3L247.8,201.9L250.6,198.8L252.0,195.6L252.0,193.5L251.7,192.1L254.8,190.0L259.7,188.1L266.0,187.9L270.2,186.8L272.3,186.5L275.1,186.5L280.0,185.5L280.3,183.7L278.6,182.4L276.5,184.4L275.8,183.3L275.1,181.6L273.0,180.5L275.8,178.5L274.4,177.0L275.8,175.3L278.6,171.8L282.8,170.0L285.0,168.7L291.3,166.9L297.5,165.2L301.3,163.1L308.0,160.6L315.0,158.2L318.8,156.0L318.5,159.5L313.6,162.0L310.0,164.8L307.3,167.6L308.8,170.0L311.2,172.2L317.1,169.0L322.5,166.3L329.0,164.5L335.0,161.9L341.2,158.8L346.5,157.5L350.0,155.3L349.3,152.9L346.5,149.4L345.8,147.7L341.6,151.5L339.5,155.3L332.5,156.8L326.9,156.8L322.0,155.7L318.5,153.6L315.7,149.4L315.7,145.9L317.8,141.7L312.9,142.4L305.2,140.7L311.5,139.6L317.1,138.2L320.6,135.4L316.3,133.1L307.5,132.5L295.0,134.0L285.6,139.2L277.9,145.2L272.3,149.0L275.1,145.5L282.5,140.0L291.3,133.7L301.3,128.8L306.2,126.3L320.0,125.5L336.0,125.2L350.0,124.0L361.0,118.0L372.5,116.0L378.8,114.0L380.0,110.5L377.5,103.0L368.8,100.5L366.0,93.0L360.5,85.0L343.0,71.0L336.0,78.0L336.0,57.0L0.0,57.0Z"/><path d="M805.0,92.0L773.5,92.0L773.5,121.4L766.5,121.4L759.5,122.1L752.5,122.8L745.5,122.8L742.0,124.5L735.0,127.0L730.1,126.7L737.1,121.4L740.6,119.0L747.6,118.6L749.0,117.2L739.9,115.8L732.9,114.4L738.5,112.3L741.3,109.5L736.4,107.4L737.8,103.9L740.6,103.9L749.0,103.2L749.0,99.0L746.2,96.2L744.8,94.8L746.9,92.0L747.6,88.5L749.0,57.0L805.0,57.0Z"/><path d="M805.0,130.5L770.0,130.5L766.5,131.5L761.6,131.5L760.9,129.1L756.7,129.1L758.8,132.6L758.8,136.5L752.5,136.8L749.0,135.4L742.0,136.1L736.8,138.2L739.9,140.3L739.2,141.3L745.5,143.1L751.1,144.5L754.6,146.6L756.0,149.4L759.5,153.6L761.6,157.8L761.6,164.8L759.9,172.2L757.4,173.2L749.0,173.5L738.5,173.2L728.0,171.8L717.5,170.8L711.9,172.5L704.9,175.3L707.0,179.5L707.7,183.7L709.1,190.0L707.0,195.6L703.5,201.2L703.5,206.1L708.4,207.5L708.4,211.7L707.7,218.0L714.0,218.0L718.2,216.6L725.2,219.4L728.0,223.6L730.8,225.0L732.9,223.6L738.5,220.8L749.0,220.1L756.0,219.4L763.0,213.8L770.0,205.4L805.0,205.4L805.0,225.0L770.0,225.7L763.0,229.9L754.6,231.3L749.0,230.6L738.5,230.6L732.9,225.7L728.7,226.4L726.6,229.9L722.4,239.0L716.8,241.8L710.5,243.9L704.9,249.5L701.4,256.5L701.4,263.5L702.8,264.2L698.6,271.2L692.3,276.1L682.5,281.0L677.6,283.8L672.0,290.8L668.5,294.3L665.0,304.1L659.4,310.4L658.0,313.9L655.2,318.8L651.7,324.4L650.6,331.4L654.5,335.6L656.6,339.8L654.5,344.0L657.3,351.0L654.5,361.5L652.4,367.8L647.5,373.8L651.0,376.9L652.4,382.5L653.1,390.2L655.9,393.0L661.5,395.8L665.0,401.4L668.5,405.6L674.1,410.5L677.6,415.4L679.7,421.7L682.5,425.2L689.5,428.7L694.4,432.2L700.0,436.4L707.0,442.0L716.8,446.2L721.0,446.2L728.0,443.4L735.0,441.3L742.0,440.2L749.0,441.3L756.0,443.8L763.0,440.6L770.0,437.8L805.0,437.8Z"/><path d="M252.0,193.0L256.9,192.7L262.5,191.4L267.1,189.5L263.2,189.7L259.0,190.2L253.8,191.3L252.0,192.1Z"/><path d="M175.3,324.0L179.2,323.0L185.5,318.1L192.5,315.3L199.5,315.0L206.5,316.3L213.5,319.5L221.9,320.2L227.5,324.4L234.5,328.2L240.1,329.3L245.0,332.1L250.9,335.2L248.5,336.7L241.5,337.7L234.5,337.3L226.1,338.0L229.6,332.8L225.4,332.1L220.5,326.5L214.9,326.2L206.5,322.7L199.5,321.6L196.0,320.2L190.4,318.8L185.5,321.6L179.2,324.4Z"/><path d="M248.8,347.8L253.4,346.8L260.4,346.8L261.1,343.3L257.6,340.5L256.2,338.0L261.1,337.7L268.1,338.0L275.1,338.4L280.7,339.8L283.5,343.3L289.8,345.4L291.2,348.2L285.6,347.8L280.0,349.6L273.0,348.9L269.5,353.1L262.5,349.6L255.5,349.6L249.9,349.2Z"/><path d="M221.6,347.8L227.5,347.5L232.4,348.6L236.2,351.0L232.4,352.1L228.9,352.1L225.4,351.7L221.6,349.2Z"/><path d="M299.2,347.5L310.8,348.2L310.8,351.0L299.6,351.3Z"/><path d="M336.7,402.1L343.0,401.4L343.0,406.3L336.7,406.7Z"/><path d="M381.2,116.1L372.5,121.8L367.5,128.0L361.3,136.7L355.0,143.0L365.0,143.6L376.2,143.0L378.8,148.0L386.3,145.5L390.0,143.0L392.5,149.3L397.5,150.5L401.2,145.5L398.7,140.5L395.0,137.3L395.0,132.3L390.0,131.0L383.7,129.2L378.8,126.7L376.2,123.0Z"/><path d="M319.9,150.8L323.4,151.2L327.6,152.5L335.3,151.8L333.2,154.3L327.6,154.0L323.4,152.9L320.6,152.5Z"/><path d="M322.7,127.3L330.4,128.8L337.4,130.8L334.6,131.9L327.6,130.8L322.7,129.1Z"/><path d="M726.6,89.9L718.9,89.2L711.9,90.6L710.5,94.8L700.0,97.6L700.7,102.5L707.0,104.6L700.7,108.8L697.2,112.3L698.6,115.8L703.5,116.5L714.0,114.4L725.2,111.6L728.0,106.0L726.6,103.2L727.3,99.0L731.5,96.9L729.4,93.4Z"/><path d="M224.3,290.5L223.4,290.0L221.1,290.0L218.9,290.4L218.1,291.1L219.0,291.6L221.3,291.6L223.5,291.2Z"/><path d="M230.6,292.6L231.1,290.4L230.7,289.2L229.7,289.9L228.6,291.8L228.1,294.0L228.5,295.2L229.5,294.5Z"/><path d="M226.8,305.1L225.6,302.3L224.0,301.4L222.7,302.8L222.6,305.9L223.8,308.7L225.4,309.6L226.7,308.2Z"/><path d="M236.6,301.7L237.5,299.7L237.5,298.6L236.5,299.1L235.2,300.9L234.3,302.9L234.3,304.0L235.3,303.5Z"/><path d="M242.1,306.9L242.8,305.3L242.7,304.4L241.9,304.8L240.9,306.2L240.2,307.8L240.3,308.7L241.1,308.3Z"/><path d="M244.9,314.3L245.8,312.6L245.9,311.6L245.0,312.0L243.7,313.5L242.8,315.2L242.7,316.2L243.6,315.8Z"/><path d="M258.6,329.7L257.9,328.8L256.2,328.4L254.5,328.8L253.8,329.7L254.5,330.5L256.2,330.9L257.9,330.5Z"/><path d="M252.3,319.1L251.5,317.9L250.6,317.5L250.1,318.4L250.3,319.9L251.1,321.1L252.0,321.5L252.5,320.6Z"/><path d="M261.4,320.2L260.9,319.7L259.7,319.5L258.5,319.7L257.9,320.2L258.5,320.7L259.7,320.9L260.9,320.7Z"/><path d="M268.8,324.4L268.2,323.9L266.7,323.7L265.2,323.9L264.6,324.4L265.2,324.9L266.7,325.1L268.2,324.9Z"/><path d="M238.4,310.1L239.4,308.6L239.6,307.8L238.8,308.1L237.6,309.3L236.6,310.8L236.4,311.6L237.2,311.3Z"/><path d="M317.6,250.9L317.3,250.5L316.8,250.3L316.2,250.5L315.9,250.9L316.2,251.3L316.8,251.5L317.3,251.3Z"/><path d="M192.5,325.1L191.9,324.0L190.4,323.6L188.9,324.0L188.3,325.1L188.9,326.2L190.4,326.6L191.9,326.2Z"/><path d="M162.3,334.2L162.1,333.2L161.7,332.8L161.3,333.2L161.1,334.2L161.3,335.2L161.7,335.6L162.1,335.2Z"/><path d="M340.9,363.6L340.4,362.7L339.2,362.3L337.9,362.7L337.4,363.6L337.9,364.5L339.2,364.9L340.4,364.5Z"/><path d="M341.1,369.2L340.9,368.2L340.6,367.8L340.2,368.2L340.0,369.2L340.2,370.2L340.6,370.6L340.9,370.2Z"/><path d="M343.8,374.4L343.6,373.5L343.0,373.1L342.4,373.5L342.2,374.4L342.4,375.4L343.0,375.8L343.6,375.4Z"/><path d="M343.9,379.7L343.7,379.0L343.3,378.7L343.0,379.0L342.8,379.7L343.0,380.4L343.3,380.8L343.7,380.4Z"/><path d="M342.1,384.2L341.9,383.7L341.6,383.4L341.3,383.7L341.1,384.2L341.3,384.8L341.6,385.1L341.9,384.8Z"/><path d="M353.7,384.9L353.5,384.4L353.2,384.1L352.8,384.4L352.6,384.9L352.8,385.5L353.2,385.8L353.5,385.5Z"/><path d="M338.7,392.3L338.5,391.7L338.1,391.5L337.7,391.7L337.5,392.3L337.7,392.9L338.1,393.1L338.5,392.9Z"/><path d="M338.2,357.7L338.0,357.3L337.4,357.1L336.8,357.3L336.6,357.7L336.8,358.0L337.4,358.2L338.0,358.0Z"/><path d="M331.1,355.9L330.9,355.5L330.4,355.3L329.9,355.5L329.7,355.9L329.9,356.3L330.4,356.5L330.9,356.3Z"/><path d="M317.8,348.6L317.4,348.2L316.4,348.1L315.4,348.2L315.0,348.6L315.4,348.9L316.4,349.0L317.4,348.9Z"/><path d="M346.1,398.2L345.8,397.9L345.1,397.7L344.4,397.9L344.1,398.2L344.4,398.6L345.1,398.8L345.8,398.6Z"/><path d="M280.8,389.5L280.6,389.0L280.0,388.8L279.4,389.0L279.2,389.5L279.4,390.0L280.0,390.2L280.6,390.0Z"/><path d="M288.9,392.5L288.7,391.8L287.7,391.0L286.5,390.6L285.8,390.7L286.0,391.4L287.0,392.2L288.2,392.6Z"/><path d="M292.7,391.9L292.5,391.5L291.9,391.2L291.3,391.5L291.1,391.9L291.3,392.4L291.9,392.7L292.5,392.4Z"/><path d="M593.9,212.4L593.2,211.9L591.5,211.7L589.8,211.9L589.1,212.4L589.8,212.9L591.5,213.1L593.2,212.9Z"/><path d="M581.0,206.1L580.6,205.6L579.6,205.4L578.6,205.6L578.2,206.1L578.6,206.6L579.6,206.8L580.6,206.6Z"/><path d="M574.0,207.5L573.4,207.0L571.9,206.8L570.4,207.0L569.8,207.5L570.4,208.0L571.9,208.2L573.4,208.0Z"/><path d="M552.7,200.8L552.4,200.4L551.9,200.1L551.5,200.4L551.2,200.8L551.5,201.3L551.9,201.5L552.4,201.3Z"/><path d="M652.8,247.8L652.2,247.3L651.0,247.0L649.8,247.3L649.2,247.8L649.8,248.2L651.0,248.5L652.2,248.2Z"/><path d="M655.6,278.9L655.0,278.0L653.8,277.6L652.6,278.0L652.1,278.9L652.6,279.8L653.8,280.2L655.0,279.8Z"/><path d="M662.1,281.4L661.7,280.5L660.8,280.1L659.9,280.5L659.5,281.4L659.9,282.2L660.8,282.6L661.7,282.2Z"/><path d="M673.9,279.8L674.0,278.6L672.9,277.1L671.3,276.3L670.1,276.6L670.0,277.8L671.1,279.3L672.7,280.1Z"/><path d="M675.9,274.5L676.1,273.6L675.6,272.7L674.6,272.3L673.7,272.8L673.5,273.7L674.0,274.6L675.0,275.0Z"/><path d="M645.9,276.5L645.6,275.5L645.1,275.1L644.5,275.5L644.2,276.5L644.5,277.4L645.1,277.9L645.6,277.4Z"/><path d="M595.7,357.7L595.3,357.1L594.3,356.8L593.3,357.1L592.9,357.7L593.3,358.2L594.3,358.5L595.3,358.2Z"/><path d="M601.3,360.8L600.9,360.4L599.9,360.2L598.9,360.4L598.5,360.8L598.9,361.2L599.9,361.4L600.9,361.2Z"/><path d="M610.3,360.1L610.1,359.4L609.7,359.1L609.3,359.4L609.1,360.1L609.3,360.8L609.7,361.2L610.1,360.8Z"/><path d="M611.8,364.3L611.4,363.6L610.4,363.2L609.4,363.6L609.0,364.3L609.4,365.0L610.4,365.3L611.4,365.0Z"/><path d="M605.9,371.7L605.5,370.4L604.8,369.9L604.1,370.4L603.8,371.7L604.1,372.9L604.8,373.4L605.5,372.9Z"/><path d="M600.0,372.7L599.8,372.1L599.2,371.9L598.6,372.1L598.4,372.7L598.6,373.3L599.2,373.5L599.8,373.3Z"/><path d="M133.6,479.8L132.1,477.7L130.4,477.2L129.4,478.7L129.6,481.2L131.1,483.3L132.8,483.8L133.8,482.3Z"/><path d="M138.6,481.2L138.2,480.5L137.2,480.2L136.2,480.5L135.8,481.2L136.2,481.9L137.2,482.2L138.2,481.9Z"/><path d="M144.6,482.9L144.2,482.5L143.5,482.2L142.8,482.5L142.4,482.9L142.8,483.4L143.5,483.7L144.2,483.4Z"/><path d="M543.8,503.9L543.6,503.7L543.2,503.6L542.8,503.7L542.6,503.9L542.8,504.2L543.2,504.3L543.6,504.2Z"/></g>
<g fill="#14cdfa" stroke="#222" stroke-width="0.7" stroke-linejoin="round"><path d="M125.3,149.8L133.0,147.3L140.0,142.8L147.0,140.7L151.9,135.8L157.5,135.0L164.5,136.1L169.4,141.3L175.7,141.7L177.1,145.2L177.8,148.7L179.2,151.5L175.0,149.8L168.0,150.8L162.4,151.8L157.5,151.5L152.6,148.7L155.4,144.8L149.8,146.6L147.0,149.0L136.5,150.8L129.5,150.1Z"/><path d="M155.4,185.5L157.5,185.1L162.4,182.3L165.9,177.4L166.6,171.8L164.5,167.6L167.3,162.7L170.8,160.6L174.3,158.5L176.4,156.4L171.5,154.7L165.9,155.3L161.0,157.1L156.8,161.3L154.0,164.8L157.5,166.9L156.1,172.5L154.7,176.0L155.4,180.9L156.8,183.7Z"/><path d="M177.1,156.0L180.6,153.6L185.5,154.3L192.5,154.0L199.5,154.3L204.4,155.7L208.6,157.8L211.4,162.7L207.9,165.5L203.7,162.7L200.9,160.6L198.1,162.0L198.8,166.9L198.1,171.8L193.2,176.0L192.5,171.8L189.7,169.0L186.2,169.7L182.7,171.8L185.5,167.6L186.9,162.7L182.0,159.2Z"/><path d="M185.8,185.1L191.1,186.5L198.1,186.5L206.5,183.3L211.4,181.2L217.7,177.4L212.8,177.0L206.5,179.2L199.5,178.5L192.5,182.3L188.3,182.7Z"/><path d="M211.4,173.9L215.6,174.6L224.0,173.5L232.4,173.9L236.6,172.2L236.6,169.0L231.7,168.7L226.1,169.3L219.1,169.7L214.2,171.5Z"/><path d="M79.0,95.0L84.0,96.0L88.0,102.0L92.0,107.0L94.0,112.0L97.0,118.0L96.0,125.0L93.0,125.0L91.0,119.0L88.0,114.0L83.0,111.0L78.0,107.0L76.0,101.0Z"/><path d="M70.0,113.0L74.0,113.0L80.0,118.0L86.0,124.0L84.0,126.0L78.0,121.0L71.0,117.0Z"/><path d="M69.0,105.0L72.0,105.0L74.0,109.0L74.0,112.0L71.0,112.0L69.0,109.0Z"/><path d="M103.6,132.2L108.5,132.6L109.2,129.8L106.4,128.4L103.6,130.5Z"/><path d="M117.6,137.2L123.2,137.8L122.5,136.5L118.3,136.2Z"/><path d="M191.8,85.0L193.9,93.4L195.3,100.4L198.1,106.0L201.6,108.8L204.4,113.0L207.9,117.9L212.1,117.2L214.9,113.7L218.4,110.2L219.8,106.0L217.0,100.4L215.6,95.5L224.0,90.6L231.0,85.0Z"/><path d="M256.2,171.8L257.6,166.9L256.9,162.0L256.2,165.5Z"/><path d="M238.0,218.3L235.9,218.0L235.6,214.5L235.9,211.0L234.8,207.5L234.5,204.0L236.6,201.2L238.0,200.5L238.0,202.6L236.6,206.1L237.3,209.6L238.3,213.8L238.3,217.0Z"/><path d="M342.3,101.5L353.5,99.3L361.9,97.6L367.5,95.8L368.2,97.2L361.2,99.3L352.8,101.5L343.0,102.8Z"/></g>
<g stroke="#222" stroke-width="0.7"><path fill="#ffd600" d="M176.2,398.6L176.0,396.4L173.6,393.8L170.4,392.4L168.2,393.0L168.4,395.2L170.8,397.8L174.0,399.2Z"/><path fill="#ffc300" d="M268.8,400.7L270.9,403.5L271.6,408.4L270.2,413.3L266.7,412.6L266.0,408.4L266.7,403.5Z"/></g>

<path d="M140.0,92V547M210.0,92V547M280.0,92V547M350.0,92V547M420.0,92V547M490.0,92V547M560.0,92V547M630.0,92V547M700.0,92V547" stroke="#000" stroke-opacity="0.33" stroke-width="1.2" fill="none"/><path d="M70,477.5H770M70,407.5H770M70,337.5H770M70,267.5H770M70,197.5H770M70,127.5H770" stroke="#000" stroke-opacity="0.5" stroke-width="1" fill="none"/>
</g>
<rect x="70" y="92" width="700" height="455" fill="none" stroke="#111" stroke-width="1.3"/>
<path d="M70.0,77V92M70.0,547V562M140.0,77V92M140.0,547V562M210.0,77V92M210.0,547V562M280.0,77V92M280.0,547V562M350.0,77V92M350.0,547V562M420.0,77V92M420.0,547V562M490.0,77V92M490.0,547V562M560.0,77V92M560.0,547V562M630.0,77V92M630.0,547V562M700.0,77V92M700.0,547V562M770.0,77V92M770.0,547V562M55,547.0H70M770,547.0H785M55,477.0H70M770,477.0H785M55,407.0H70M770,407.0H785M55,337.0H70M770,337.0H785M55,267.0H70M770,267.0H785M55,197.0H70M770,197.0H785M55,127.0H70M770,127.0H785" stroke="#000" stroke-width="1.3" fill="none"/>
<g font-size="16.4" fill="#000"><text x="70.0" y="586.6" text-anchor="middle">100W</text><text x="140.0" y="586.6" text-anchor="middle">90W</text><text x="210.0" y="586.6" text-anchor="middle">80W</text><text x="280.0" y="586.6" text-anchor="middle">70W</text><text x="350.0" y="586.6" text-anchor="middle">60W</text><text x="420.0" y="586.6" text-anchor="middle">50W</text><text x="490.0" y="586.6" text-anchor="middle">40W</text><text x="560.0" y="586.6" text-anchor="middle">30W</text><text x="630.0" y="586.6" text-anchor="middle">20W</text><text x="700.0" y="586.6" text-anchor="middle">10W</text><text x="770.0" y="586.6" text-anchor="middle">0</text><text x="43.8" y="553.0" text-anchor="end">10S</text><text x="43.8" y="483.0" text-anchor="end">0</text><text x="43.8" y="413.0" text-anchor="end">10N</text><text x="43.8" y="343.0" text-anchor="end">20N</text><text x="43.8" y="273.0" text-anchor="end">30N</text><text x="43.8" y="203.0" text-anchor="end">40N</text><text x="43.8" y="133.0" text-anchor="end">50N</text></g>
<text x="420" y="610" text-anchor="middle" font-size="16.43" font-weight="bold">Ocean Analysis - Reynolds Daily Sea Surface Temperature (C) - valid: 2026 - 01 - 10</text>
<g><rect x="111.20" y="627" width="19.27" height="40" fill="#14cdfa"/><rect x="130.47" y="627" width="19.27" height="40" fill="#12f8f8"/><rect x="149.74" y="627" width="19.27" height="40" fill="#28fafa"/><rect x="169.01" y="627" width="19.27" height="40" fill="#46faff"/><rect x="188.28" y="627" width="19.27" height="40" fill="#6efaff"/><rect x="207.55" y="627" width="19.27" height="40" fill="#8cfaff"/><rect x="226.82" y="627" width="19.27" height="40" fill="#88ffd0"/><rect x="246.09" y="627" width="19.27" height="40" fill="#60f090"/><rect x="265.36" y="627" width="19.27" height="40" fill="#3cf064"/><rect x="284.63" y="627" width="19.27" height="40" fill="#1ef046"/><rect x="303.90" y="627" width="19.27" height="40" fill="#0af514"/><rect x="323.17" y="627" width="19.27" height="40" fill="#28f01e"/><rect x="342.44" y="627" width="19.27" height="40" fill="#50f01e"/><rect x="361.71" y="627" width="19.27" height="40" fill="#8cf514"/><rect x="380.98" y="627" width="19.27" height="40" fill="#b4fa00"/><rect x="400.25" y="627" width="19.27" height="40" fill="#d2fa00"/><rect x="419.52" y="627" width="19.27" height="40" fill="#d7f800"/><rect x="438.79" y="627" width="19.27" height="40" fill="#e0f800"/><rect x="458.06" y="627" width="19.27" height="40" fill="#e8fa00"/><rect x="477.33" y="627" width="19.27" height="40" fill="#f0ff00"/><rect x="496.60" y="627" width="19.27" height="40" fill="#ffff00"/><rect x="515.87" y="627" width="19.27" height="40" fill="#ffea00"/><rect x="535.14" y="627" width="19.27" height="40" fill="#ffd600"/><rect x="554.41" y="627" width="19.27" height="40" fill="#ffc300"/><rect x="573.68" y="627" width="19.27" height="40" fill="#ffb400"/><rect x="592.95" y="627" width="19.27" height="40" fill="#ffa600"/><rect x="612.22" y="627" width="19.27" height="40" fill="#ff9100"/><rect x="631.49" y="627" width="19.27" height="40" fill="#ff7c00"/><rect x="650.76" y="627" width="19.27" height="40" fill="#ff6400"/><rect x="670.03" y="627" width="19.27" height="40" fill="#ff5000"/><rect x="689.30" y="627" width="19.27" height="40" fill="#ff3800"/><rect x="708.57" y="627" width="19.27" height="40" fill="#ff2010"/></g>
<g stroke="#000" stroke-width="0.8" stroke-opacity="0.8"><line x1="130.47" y1="627" x2="130.47" y2="667"/><line x1="149.74" y1="627" x2="149.74" y2="667"/><line x1="169.01" y1="627" x2="169.01" y2="667"/><line x1="188.28" y1="627" x2="188.28" y2="667"/><line x1="207.55" y1="627" x2="207.55" y2="667"/><line x1="226.82" y1="627" x2="226.82" y2="667"/><line x1="246.09" y1="627" x2="246.09" y2="667"/><line x1="265.36" y1="627" x2="265.36" y2="667"/><line x1="284.63" y1="627" x2="284.63" y2="667"/><line x1="303.90" y1="627" x2="303.90" y2="667"/><line x1="323.17" y1="627" x2="323.17" y2="667"/><line x1="342.44" y1="627" x2="342.44" y2="667"/><line x1="361.71" y1="627" x2="361.71" y2="667"/><line x1="380.98" y1="627" x2="380.98" y2="667"/><line x1="400.25" y1="627" x2="400.25" y2="667"/><line x1="419.52" y1="627" x2="419.52" y2="667"/><line x1="438.79" y1="627" x2="438.79" y2="667"/><line x1="458.06" y1="627" x2="458.06" y2="667"/><line x1="477.33" y1="627" x2="477.33" y2="667"/><line x1="496.60" y1="627" x2="496.60" y2="667"/><line x1="515.87" y1="627" x2="515.87" y2="667"/><line x1="535.14" y1="627" x2="535.14" y2="667"/><line x1="554.41" y1="627" x2="554.41" y2="667"/><line x1="573.68" y1="627" x2="573.68" y2="667"/><line x1="592.95" y1="627" x2="592.95" y2="667"/><line x1="612.22" y1="627" x2="612.22" y2="667"/><line x1="631.49" y1="627" x2="631.49" y2="667"/><line x1="650.76" y1="627" x2="650.76" y2="667"/><line x1="670.03" y1="627" x2="670.03" y2="667"/><line x1="689.30" y1="627" x2="689.30" y2="667"/><line x1="708.57" y1="627" x2="708.57" y2="667"/></g>
<rect x="111.2" y="627" width="616.64" height="40" fill="none" stroke="#000" stroke-width="1"/>
<g font-size="19.5" fill="#000"><text x="130.47" y="694" text-anchor="middle">5</text><text x="226.82" y="694" text-anchor="middle">10</text><text x="323.17" y="694" text-anchor="middle">15</text><text x="419.52" y="694" text-anchor="middle">20</text><text x="515.87" y="694" text-anchor="middle">25</text><text x="612.22" y="694" text-anchor="middle">30</text><text x="708.57" y="694" text-anchor="middle">35</text></g>
<text x="774" y="725" text-anchor="end" font-size="13.64">Data Source: National Climatic Data Center (NCDC/NOAA)</text>
</svg></body></html>
